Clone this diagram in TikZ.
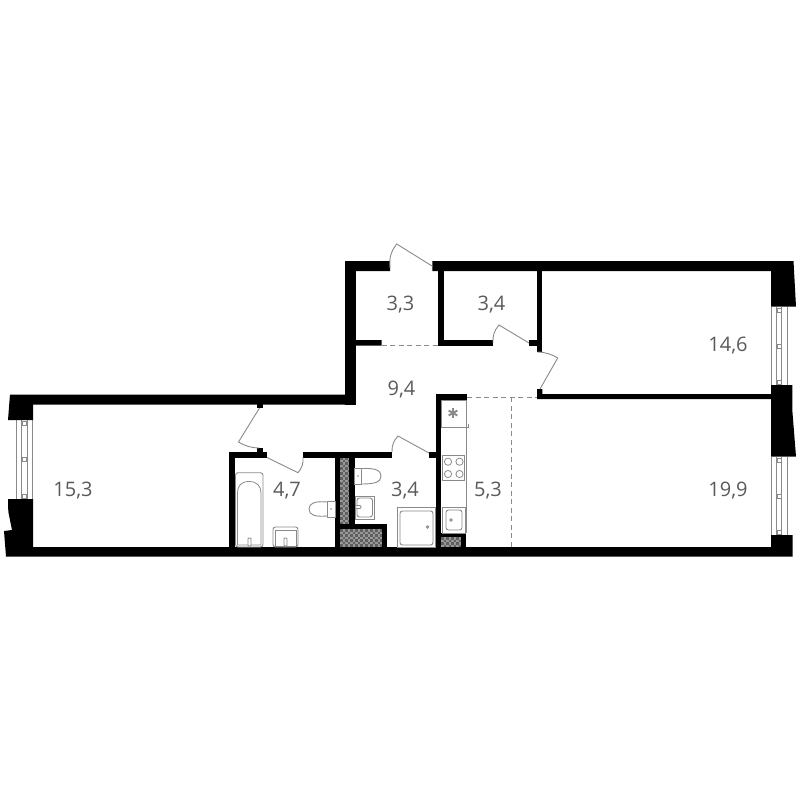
\documentclass[tikz,border=0pt]{standalone}
\usepackage{fontspec}
\usetikzlibrary{calc}
\setmainfont{Open Sans}
\definecolor{txt}{HTML}{5A5A5A}
\definecolor{ln}{HTML}{8A8A8A}
\definecolor{shaftdark}{HTML}{606060}
\definecolor{shaftlight}{HTML}{989898}
\tikzset{
  wall/.style={fill=black,draw=none},
  thin gray/.style={draw=ln,line width=0.8pt,fill=none},
  door/.style={draw=ln,line width=0.9pt,fill=none},
  zone/.style={draw=ln,line width=0.9pt,dash pattern=on 5pt off 3.5pt},
  area/.style={text=txt,font=\fontsize{20}{24}\selectfont,inner sep=0pt},
  glyph/.style={draw=ln,line width=0.9pt,fill=white,rounded corners=2.5pt},
  box/.style={draw=ln,line width=0.9pt,fill=white},
}
\newcommand{\shaft}[4]{%
  \begin{scope}
    \clip (#1,#2) rectangle (#3,#4);
    \fill[shaftlight] (#1,#2) rectangle (#3,#4);
    \foreach \i in {0,...,20}{\foreach \j in {0,...,30}{%
      \pgfmathparse{int(mod(\i+\j,2))}%
      \ifnum\pgfmathresult=0
        \fill[shaftdark] ({#1+\i*2.5},{#2+\j*2.5}) rectangle ++(2.5,2.5);
      \fi}}
  \end{scope}}
\newcommand{\wind}[7]{% x1..x4, y1,y2, squares x
  \draw[thin gray] (#1,#5) -- (#1,#6) (#2,#5) -- (#2,#6) (#3,#5) -- (#3,#6) (#4,#5) -- (#4,#6);
  \pgfmathsetmacro{\ym}{(#5+#6)/2}
  \draw[thin gray,fill=white] ({#7-2},{#5+1}) rectangle ++(4,4);
  \draw[thin gray,fill=white] ({#7-2},{\ym-2}) rectangle ++(4,4);
  \draw[thin gray,fill=white] ({#7-2},{#6-5}) rectangle ++(4,4);}
\begin{document}
\begin{tikzpicture}[x=1pt,y=-1pt]
\useasboundingbox (0,0) rectangle (800,800);
% shafts
\shaft{340}{457}{349}{524}
\shaft{340}{529}{382}{547}
\shaft{441}{537}{461}{547}
% windows
\wind{16.7}{21.7}{27.3}{32.7}{420}{499}{24.5}
\wind{771.7}{776.7}{781.7}{787.7}{307}{385}{779}
\wind{771.7}{776.7}{781.7}{787.7}{457}{535}{779}
% outer walls
\fill[wall] (10,394.5) -- (355.7,394.5) -- (355.7,261) -- (390,261) -- (390,271) -- (355.7,271) -- (355.7,340) -- (381.7,340) -- (381.7,345.7) -- (355.7,345.7) -- (355.7,404.5) -- (33,404.5) -- (33,420) -- (8,420) -- cycle;
\fill[wall] (345,261) rectangle (356,404.5);
\fill[wall] (432.3,261) -- (793.5,261) -- (796,306.7) -- (771,306.7) -- (771,271) -- (432.3,271) -- cycle;
\fill[wall] (8,499) -- (33,499) -- (33,547) -- (771,547) -- (771,535) -- (792.6,535) -- (792.6,556.5) -- (6,556.5) -- (4,531) -- (12,530) -- (8.3,511.6) -- cycle;
\fill[wall] (771,385) -- (792.3,385) -- (792.3,410) -- (796,456.7) -- (771,456.7) -- (771,399) -- (537,399) -- (537,389) -- (542.3,389) -- (542.3,394) -- (771,394) -- cycle;
% interior walls
\fill[wall] (438,271) rectangle (443.7,345.7);
\fill[wall] (438,340) rectangle (493,345.7);
\fill[wall] (537.3,271) rectangle (542.3,352);
\fill[wall] (529,340) rectangle (542.3,346);
\fill[wall] (229,452) rectangle (266.7,457.5);
\fill[wall] (257,448) rectangle (263,452);
\fill[wall] (257,404) rectangle (263,408);
\fill[wall] (229,452) rectangle (235,547);
\fill[wall] (303,452) rectangle (392,457.5);
\fill[wall] (335,452) rectangle (340,547);
\fill[wall] (349,452) rectangle (354.5,529);
\fill[wall] (335,523.5) rectangle (387,529);
\fill[wall] (382,523.5) rectangle (387,547);
\fill[wall] (429,452) rectangle (441,457.5);
\fill[wall] (436,394) rectangle (441,547);
\fill[wall] (436,394) rectangle (467,400);
\fill[wall] (436,533) rectangle (466,537);
\fill[wall] (461,533) rectangle (466,547);
% zone lines
\draw[zone] (381.7,345) -- (438,345);
\draw[zone] (467,397) -- (537,397);
\draw[zone] (511,397) -- (511,547);
% doors
\draw[door] (432,266) -- (396.7,244) to[bend right=22] (390,268);
\draw[door] (529,343) -- (499,325) to[bend right=22] (493,343);
\draw[door] (540,389) -- (557.7,358) to[bend right=14] (537.5,352);
\draw[door] (259.5,408) -- (238.5,442) to[bend right=14] (259,448);
\draw[door] (267,457.5) -- (298,472.7) to[bend right=22] (303,457);
\draw[door] (429,453) -- (398,436) to[bend right=22] (392,452);
% kitchen
\draw[thin gray] (466,400) -- (466,533);
\draw[box] (441,400) rectangle (466,427);
\foreach \a in {30,90,150}{\draw[ln,line width=1.9pt] ($(453,413)+(\a:5)$) -- ($(453,413)+(\a+180:5)$);}
\draw[thin gray] (466,427) -- (468,427) -- (468,424);
\draw[box] (442,455.7) rectangle (464,480);
\foreach \cx in {448,459.5}\foreach \cy in {461.7,474}{\draw[thin gray] (\cx,\cy) circle (3.6);}
\draw[box] (442,507) rectangle (465,533);
\draw[glyph] (446,510) rectangle (462,530);
\draw[thin gray] (451,520) circle (1.2);
% shower
\draw[box] (397,507) rectangle (435.5,547);
\draw[glyph] (400,511) rectangle (433,545);
\draw[thin gray] (427.5,527) circle (1.3);
% WC 3,4
\draw[door] (361.7,468.5) .. controls (375,468) and (381,470) .. (381,476) .. controls (381,482) and (375,484) .. (361.7,484);
\draw[box] (354.5,468) rectangle (361.7,484);
\fill[ln] (358,476) circle (0.9);
\draw[box] (355,496) rectangle (374.5,519);
\draw[glyph] (357,498) rectangle (372.5,517);
\draw[box,rounded corners=1pt] (355.5,505.5) rectangle (361,508.5);
% bath
\draw[glyph] (235.5,472.7) -- (263,472.7) -- (263,547) -- (235.5,547) -- cycle;
\draw[thin gray] (237.5,545) -- (237.5,493) .. controls (237.5,486) and (241,481.5) .. (249,481.5) .. controls (257,481.5) and (261,486) .. (261,493) -- (261,545) -- cycle;
\draw[box,rounded corners=0.8pt] (248,538) rectangle (251,546);
% sink
\draw[glyph] (273,527) rectangle (298,547);
\draw[thin gray] (275,530) rectangle (296,546);
\draw[box,rounded corners=0.8pt] (284,538) rectangle (287,546);
% WC 4,7
\draw[door] (327,502) .. controls (315,501) and (309,503) .. (309,509) .. controls (309,515) and (315,517) .. (327,516);
\draw[box] (327,501) rectangle (335,517);
\fill[ln] (331,509) circle (0.9);
% labels
\node[area] (a1) at (400.5,304.5) {3,3};
\node[area] (a2) at (491.5,304.5) {3,4};
\node[area] (a3) at (728,345.5) {14,6};
\node[area] (a4) at (401.5,389.5) {9,4};
\node[area] (a5) at (73,490.5) {15,3};
\node[area] (a6) at (287,490.5) {4,7};
\node[area] (a7) at (405,490.5) {3,4};
\node[area] (a8) at (488,490.5) {5,3};
\node[area] (a9) at (728,490.5) {19,9};
\end{tikzpicture}
\end{document}
